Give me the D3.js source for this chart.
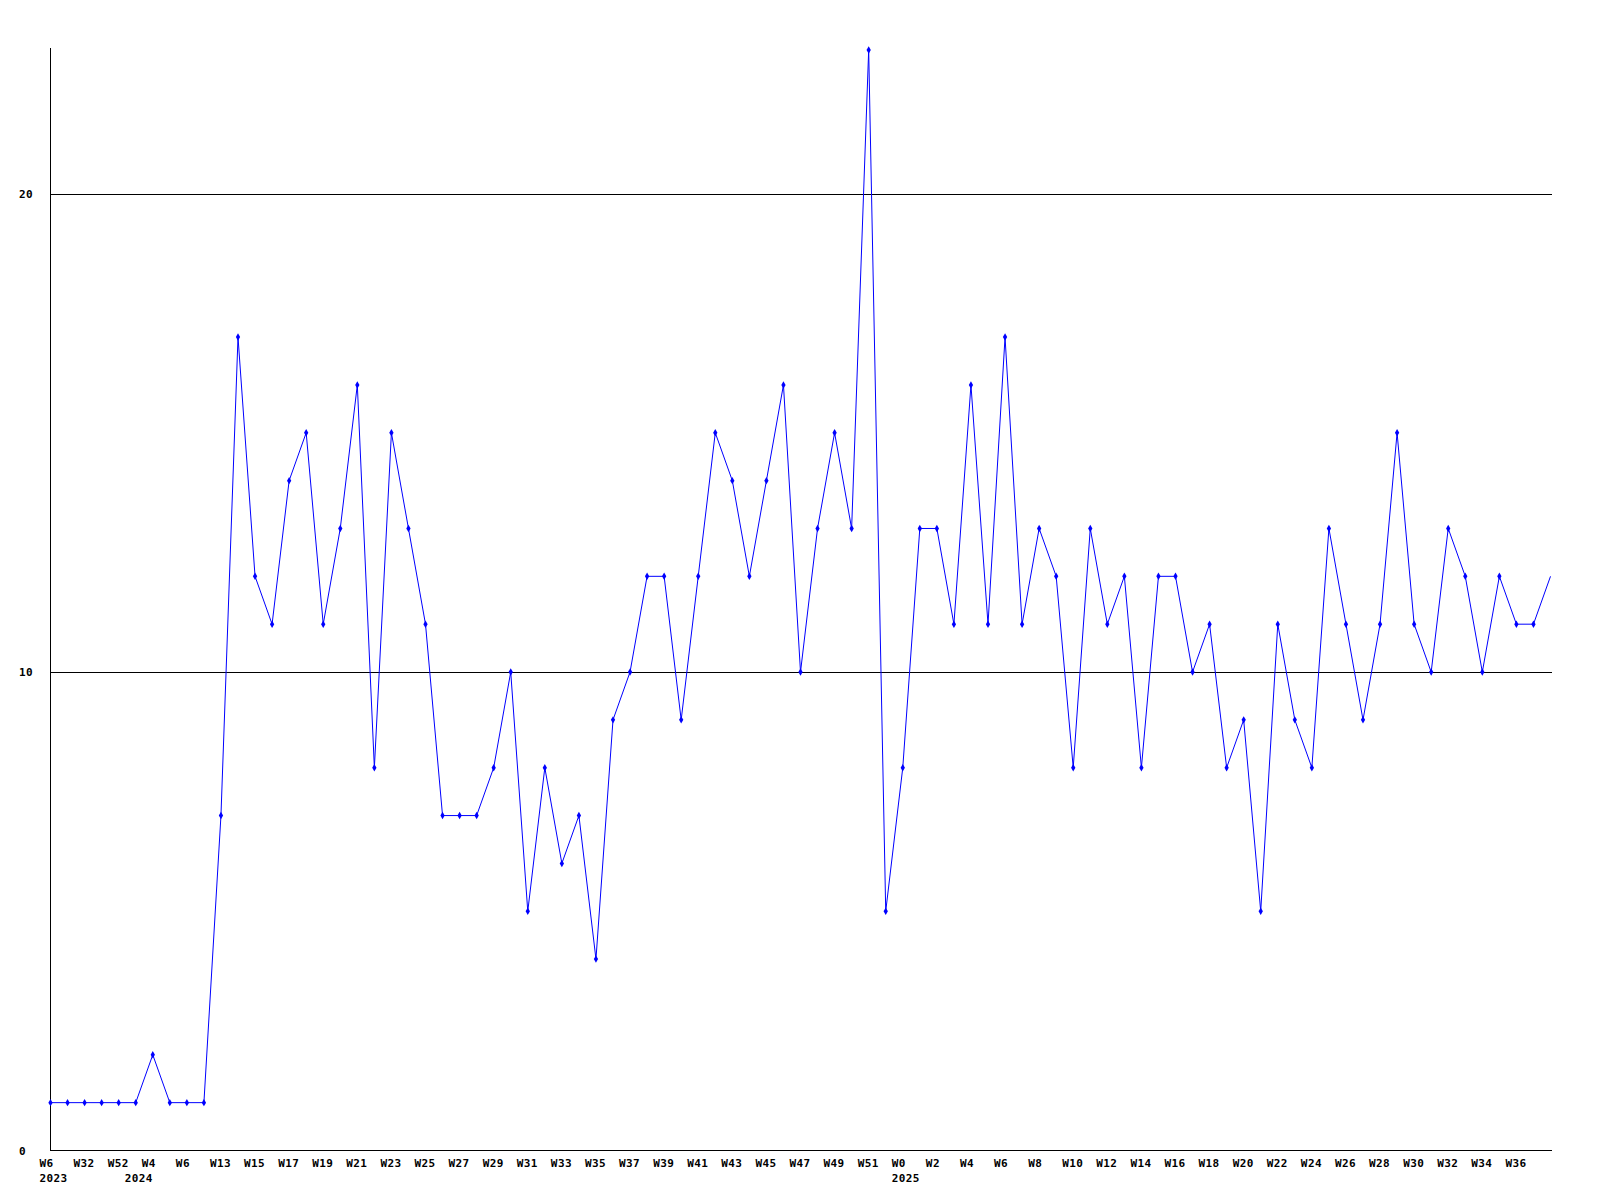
<!DOCTYPE html>
<html>
<head>
<meta charset="UTF-8">
<title>Weekly chart</title>
<script src="https://cdn.jsdelivr.net/npm/d3@7/dist/d3.min.js"></script>
<style>
  body { margin: 0; background: #fff; }
  text { font-family: "DejaVu Sans Mono", monospace; font-weight: bold; font-size: 11px; letter-spacing: 0.4px; fill: #000; }
</style>
</head>
<body>
<script>
    // values per week (one point per week)
    let values = [
        1, 1, 1, 1, 1, 1, 2, 1, 1, 1,
        7, 17, 12, 11, 14, 15, 11, 13, 16, 8,
        15, 13, 11, 7, 7, 7, 8, 10, 5, 8,
        6, 7, 4, 9, 10, 12, 12, 9, 12, 15,
        14, 12, 14, 16, 10, 13, 15, 13, 23, 5,
        8, 13, 13, 11, 16, 11, 17, 11, 13, 12,
        8, 13, 11, 12, 8, 12, 12, 10, 11, 8,
        9, 5, 11, 9, 8, 13, 11, 9, 11, 15,
        11, 10, 13, 12, 10, 12, 11, 11, 12
    ];

    // x labels, one every second week
    let weekLabels = [
        "W6", "W32", "W52", "W4", "W6", "W13", "W15", "W17", "W19", "W21",
        "W23", "W25", "W27", "W29", "W31", "W33", "W35", "W37", "W39", "W41",
        "W43", "W45", "W47", "W49", "W51", "W0", "W2", "W4", "W6", "W8",
        "W10", "W12", "W14", "W16", "W18", "W20", "W22", "W24", "W26", "W28",
        "W30", "W32", "W34", "W36"
    ];

    // year labels: index of the week where the year starts
    let yearLabels = [
        {index: 0, text: "2023"},
        {index: 5, text: "2024"},
        {index: 50, text: "2025"}
    ];

    let yTicks = [0, 10, 20];

    let width = 1600, height = 1200;
    let plotLeft = 50.5, plotRight = 1550.5, plotTop = 50, plotBottom = 1150.5;
    let labelShift = 11; // labels start a little left of their point

    let svg = d3.select("body").append("svg")
        .attr("width", width)
        .attr("height", height);

    // scales
    let x = d3.scaleLinear()
        .domain([0, values.length - 1])
        .range([plotLeft, plotRight]);

    let y = d3.scaleLinear()
        .domain([0, 23])
        .range([plotBottom, plotTop]);

    // horizontal grid lines
    svg.append("g")
        .selectAll("line")
        .data(yTicks.filter(d => d > 0))
        .enter().append("line")
        .attr("x1", plotLeft)
        .attr("x2", plotRight + 1)
        .attr("y1", d => Math.round(y(d)) + 0.5)
        .attr("y2", d => Math.round(y(d)) + 0.5)
        .attr("stroke", "#000")
        .attr("shape-rendering", "crispEdges");

    // axes
    svg.append("line")
        .attr("x1", plotLeft).attr("x2", plotLeft)
        .attr("y1", plotTop - 2).attr("y2", plotBottom)
        .attr("stroke", "#000")
        .attr("shape-rendering", "crispEdges");
    svg.append("line")
        .attr("x1", plotLeft).attr("x2", plotRight + 1)
        .attr("y1", plotBottom).attr("y2", plotBottom)
        .attr("stroke", "#000")
        .attr("shape-rendering", "crispEdges");

    // y labels (left aligned)
    svg.append("g")
        .selectAll("text")
        .data(yTicks)
        .enter().append("text")
        .attr("x", 19)
        .attr("y", d => y(d) + 4)
        .text(d => d);

    // week labels, every second point
    svg.append("g")
        .selectAll("text")
        .data(weekLabels)
        .enter().append("text")
        .attr("x", (d, i) => x(i * 2) - labelShift)
        .attr("y", 1167)
        .text(d => d);

    // year labels
    svg.append("g")
        .selectAll("text")
        .data(yearLabels)
        .enter().append("text")
        .attr("x", d => x(d.index) - labelShift)
        .attr("y", 1182)
        .text(d => d.text);

    // line
    let line = d3.line()
        .x((d, i) => x(i))
        .y(d => y(d));

    svg.append("path")
        .datum(values)
        .attr("d", line)
        .attr("fill", "none")
        .attr("stroke", "#0000ff")
        .attr("stroke-width", 1);

    // markers (last point sits on the border and has none)
    svg.append("g")
        .selectAll("path")
        .data(values.slice(0, values.length - 1))
        .enter().append("path")
        .attr("transform", (d, i) => "translate(" + x(i) + "," + y(d) + ")")
        .attr("d", d3.symbol().type(d3.symbolDiamond).size(16))
        .attr("fill", "#0000ff");
</script>
</body>
</html>
